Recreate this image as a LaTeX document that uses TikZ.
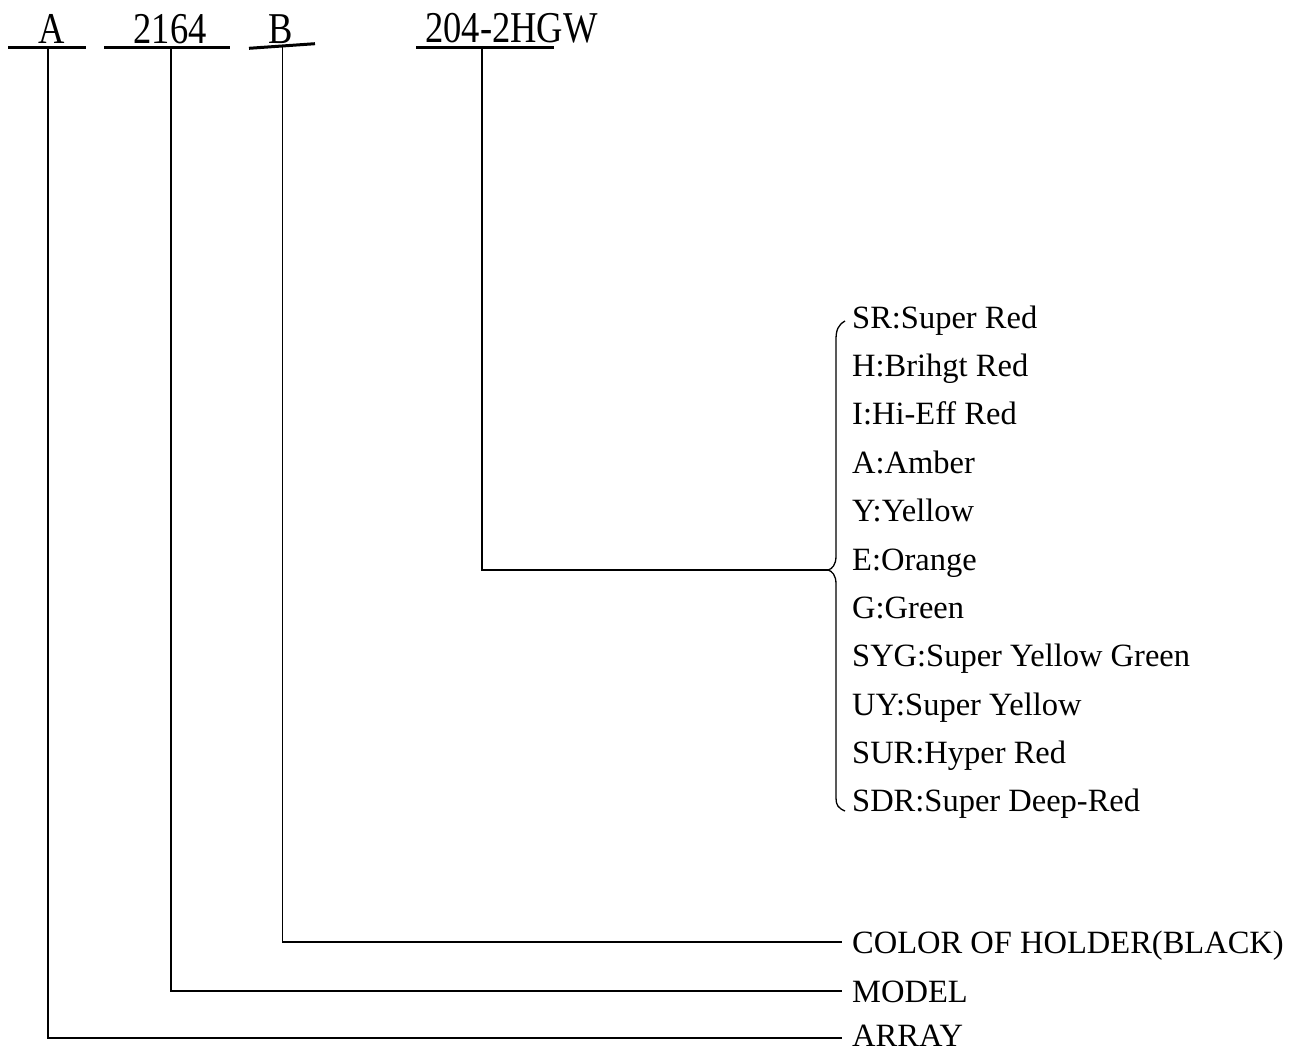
\documentclass[tikz,border=0pt]{standalone}
\usepackage{fontspec}
\usepackage{graphicx}
\setmainfont{Liberation Serif}
\newcommand{\hx}[1]{\scalebox{0.83}[1]{#1}}
\begin{document}
\begin{tikzpicture}[x=1pt,y=-1pt,
  hdr/.style={font=\fontsize{44}{44}\selectfont, inner sep=0pt, anchor=base},
  lbl/.style={font=\fontsize{32.5}{39}\selectfont, inner sep=0pt, anchor=base west},
  uline/.style={line width=3pt},
  conn/.style={line width=1.4pt}]
\useasboundingbox (0,0) rectangle (1297,1053);

% header codes
\node[hdr] (tA)    at (52,43)    {\hx{A}};
\node[hdr] (tMod)  at (170,43)   {\hx{2164}};
\node[hdr] (tB)    at (281,43)   {\hx{B}};
\node[hdr] (tCode) at (511.5,42) {\hx{204-2HGW}};

% underlines
\draw[uline] (8,47.7) -- (86,47.7);
\draw[uline] (104,47.7) -- (230,47.7);
\draw[uline] (249,48.3) -- (315,43.7);
\draw[uline] (416,47.7) -- (554,47.7);

\coordinate (uA)    at (48,47.7);
\coordinate (uMod)  at (171,47.7);
\coordinate (uB)    at (282.5,46);
\coordinate (uCode) at (482,47.7);

% bottom labels
\node[lbl] (lColor) at (852,953)  {COLOR OF HOLDER(BLACK)};
\node[lbl] (lModel) at (852,1002) {MODEL};
\node[lbl] (lArray) at (852,1046) {ARRAY};

\coordinate (eColor) at (842,942);
\coordinate (eModel) at (842,991);
\coordinate (eArray) at (842,1038);
\coordinate (eCode)  at (828,570);

\draw[conn] (uA) |- (eArray);
\draw[conn] (uMod) |- (eModel);
\draw[conn] (uB) |- (eColor);
\draw[conn] (uCode) |- (eCode);

% color list
\foreach \t [count=\i from 0] in {SR:Super Red,H:Brihgt Red,I:Hi-Eff Red,A:Amber,Y:Yellow,E:Orange,G:Green,SYG:Super Yellow Green,UY:Super Yellow,SUR:Hyper Red,SDR:Super Deep-Red}
  \node[lbl] (c\i) at (852,328.3+48.34*\i) {\t};

% brace
\draw[line width=1.3pt] (845,321) .. controls (838,325) and (836,330) .. (836,340)
  -- (836,556) .. controls (836,565) and (832,569) .. (eCode)
  .. controls (832,571) and (836,575) .. (836,584)
  -- (836,798) .. controls (836,805) and (838,808) .. (845,811);
\end{tikzpicture}
\end{document}
